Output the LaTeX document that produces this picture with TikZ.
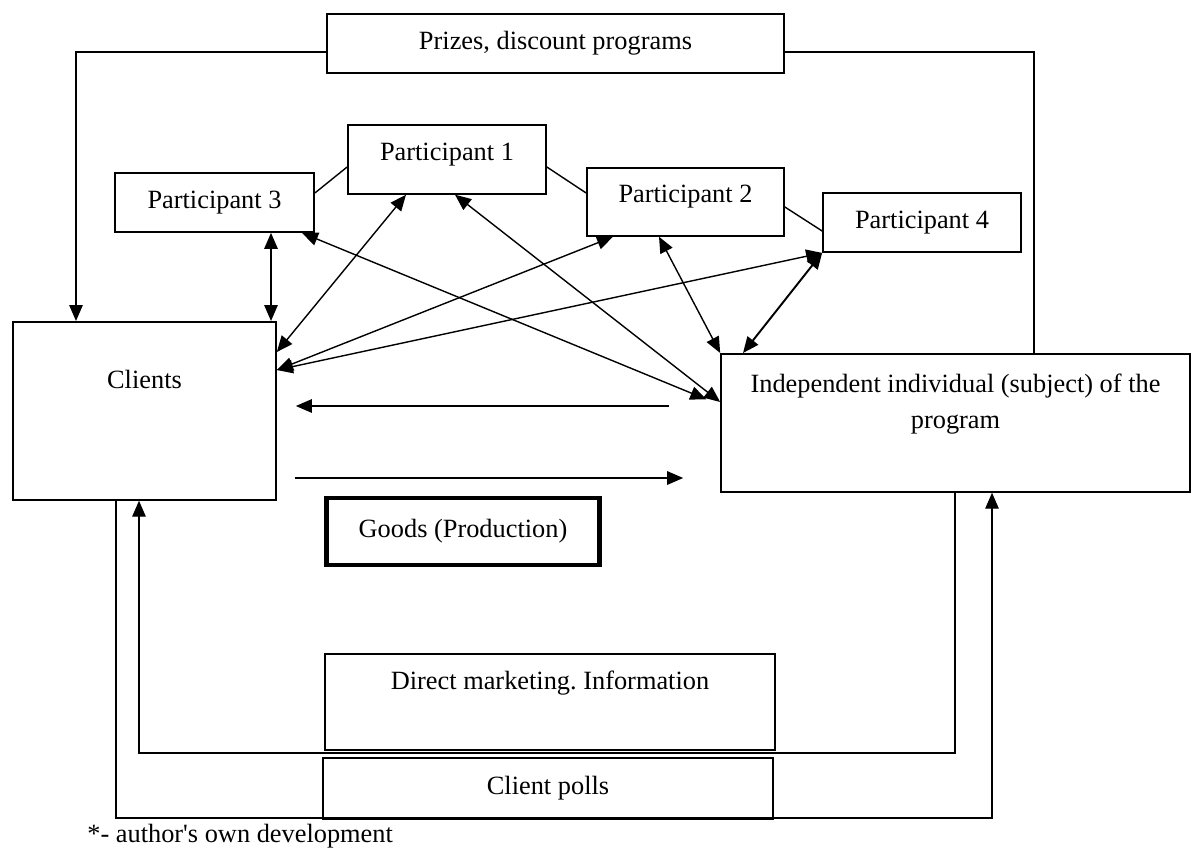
\documentclass[tikz,border=0pt]{standalone}
\usepackage{fontspec}
\setmainfont{Liberation Serif}
\usetikzlibrary{arrows.meta}
\frenchspacing

\begin{document}
\begin{tikzpicture}[x=0.02cm,y=-0.02cm,
        box/.style={draw,line width=1pt,inner sep=0pt,font=\fontsize{15}{20}\selectfont},
        link/.style={line width=0.8pt},
        >={Triangle[length=0.32cm,width=0.27cm]}]
        \useasboundingbox (0,0) rectangle (1193,848);
        % Top
        \node[box,minimum width=9.14cm,minimum height=1.18cm] (prizes) at (555.5,43.5) {Prizes, discount programs};
        % Participants
        \node[box,minimum width=3.96cm,text height=0.72cm,text depth=0.66cm,anchor=north] (p1) at (447,124) {Participant 1};
        \node[box,minimum width=3.98cm,minimum height=1.18cm] (p3) at (214.5,202.5) {Participant 3};
        \node[box,minimum width=3.94cm,text height=0.70cm,text depth=0.66cm,anchor=north] (p2) at (685.5,167) {Participant 2};
        \node[box,minimum width=3.96cm,minimum height=1.18cm] (p4) at (922,222.5) {Participant 4};
        % Middle
        \node[box,minimum width=5.26cm,text height=1.34cm,text depth=2.22cm,anchor=north] (clients) at (144.5,321) {Clients};
        \node[box,minimum width=9.38cm,text height=0.78cm,text depth=1.98cm,anchor=north] (indep) at (955.5,353)
            {\begin{tabular}[t]{@{}c@{}}Independent individual (subject) of the\\program\end{tabular}};
        \node[box,line width=2.5pt,minimum width=5.46cm,minimum height=1.34cm] (goods) at (463,531.5) {Goods (Production)};
        % Bottom
        \node[box,minimum width=9.0cm,text height=0.72cm,text depth=1.2cm,anchor=north] (direct) at (550,653) {Direct marketing. Information};
        \node[box,minimum width=9.0cm,minimum height=1.22cm] (polls) at (548,788.5) {Client polls};
        \node[font=\fontsize{15}{20}\selectfont,anchor=base west,inner sep=0pt] (note) at (87,842) {*- author\textquotesingle s own development};
        % Prizes lines
        \draw[link,->] (prizes.west |- 0,52) -| (76,0 |- clients.north);
        \draw[link] (prizes.east |- 0,52) -| (1034,0 |- indep.north);
        % Participant links
        \draw[link] (p3.east |- 0,193) -- (p1.west |- 0,167);
        \draw[link] (p1.east |- 0,167) -- (p2.west |- 0,193);
        \draw[link] (p2.east |- 0,207) -- (p4.west |- 0,231);
        % Arrows to participants
        \draw[link,<->] (271,0 |- p3.south) -- (271,0 |- clients.north);
        \draw[link,<->] (clients.east |- 0,352) -- (406,0 |- p1.south);
        \draw[link,<->] (clients.east |- 0,370) -- (613,0 |- p2.south);
        \draw[link,<->] (clients.east |- 0,370) -- (p4.south west);
        \draw[link,<->,shorten >=0.3cm] (302,0 |- p3.south) -- (indep.west |- 0,405);
        \draw[link,<->] (455,0 |- p1.south) -- (indep.west |- 0,402);
        \draw[link,<->] (659,0 |- p2.south) -- (indep.north west);
        \draw[link,<->,line width=1.1pt] (p4.south west) -- (743,0 |- indep.north);
        % Clients and individual
        \draw[link,->,shorten <=1.02cm,shorten >=0.38cm] (indep.west |- 0,406) -- (clients.east |- 0,406);
        \draw[link,->,shorten <=0.36cm,shorten >=0.74cm] (clients.east |- 0,478) -- (indep.west |- 0,478);
        % Bottom loops
        \draw[link,->] (955,0 |- indep.south) |- (139,753) -- (139,0 |- clients.south);
        \draw[link,->] (116,0 |- clients.south) |- (992,818) -- (992,0 |- indep.south);
    \end{tikzpicture}
\end{document}
